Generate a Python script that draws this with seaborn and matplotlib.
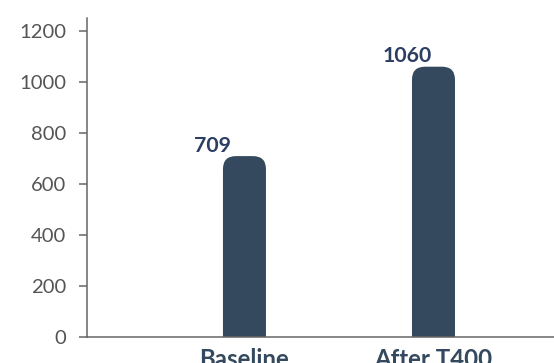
import matplotlib
matplotlib.use("Agg")
import matplotlib.pyplot as plt
import seaborn as sns
import pandas as pd
from matplotlib.patches import FancyBboxPatch

categories = ["Baseline", "After T400"]
values = [709, 1060]
yticks = [0, 200, 400, 600, 800, 1000, 1200]

BAR_COLOR = "#34495e"
LABEL_COLOR = "#2c3e64"
TICK_COLOR = "#555555"
AXIS_COLOR = "#666666"

sns.set_theme(style="white")
plt.rcParams["font.family"] = ["Lato", "DejaVu Sans"]

fig = plt.figure(figsize=(5.54, 3.63), dpi=100)
ax = fig.add_axes([87 / 554, 1 - 336.7 / 363, 1 - 87 / 554, (336.7 - 18.3) / 363])

df = pd.DataFrame({"cat": categories, "val": values})
sns.barplot(data=df, x="cat", y="val", color=BAR_COLOR, width=0.2275,
            saturation=1, ax=ax)

ax.set_xlim(-0.833, 1.6376)
ax.set_ylim(0, 1250)
ax.set_yticks(yticks)
ax.set_xlabel("")
ax.set_ylabel("")

# rounded tops
fig.canvas.draw()
inv = ax.transData.inverted()
x0, y0 = inv.transform((0, 0))
x1, y1 = inv.transform((13, 13))
rx = x1 - x0
ry = y1 - y0
bars = list(ax.patches)
for i, p in enumerate(bars):
    bx, by = p.get_x(), p.get_y()
    bw, bh = p.get_width(), p.get_height()
    p.remove()
    fb = FancyBboxPatch((bx, by - 2 * ry), bw, bh + 2 * ry,
                        boxstyle=f"round,pad=0,rounding_size={rx}",
                        mutation_aspect=ry / rx,
                        facecolor=BAR_COLOR, edgecolor="none", zorder=2)
    ax.add_patch(fb)
    ax.text(bx + bw / 2 - 0.267, by + bh + 17, f"{values[i]}",
            ha="left", va="baseline", fontsize=15.3, fontweight="bold",
            color=LABEL_COLOR)

for s in ["top", "right"]:
    ax.spines[s].set_visible(False)
for s in ["left", "bottom"]:
    ax.spines[s].set_color(AXIS_COLOR)
    ax.spines[s].set_linewidth(1.1)
    ax.spines[s].set_zorder(3)

ax.tick_params(axis="y", which="both", left=True, length=5.5, width=1.1,
               color=AXIS_COLOR, labelsize=14.6, labelcolor=TICK_COLOR, pad=9.5)
ax.tick_params(axis="x", bottom=False, labelsize=17.3, labelcolor=BAR_COLOR, pad=2)
for lbl in ax.get_xticklabels():
    lbl.set_fontweight("bold")

fig.savefig("out.png", dpi=100)
